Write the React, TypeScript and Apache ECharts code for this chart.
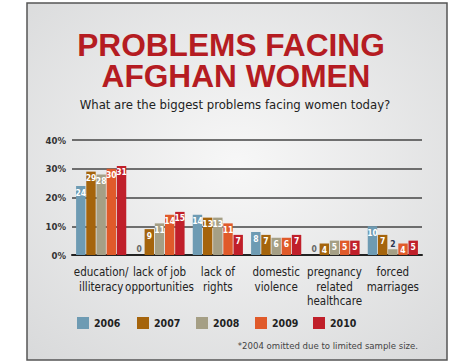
import React, { useEffect, useRef } from "react";
import * as echarts from "echarts";

const categories = [
  "education/\nilliteracy",
  "lack of job\nopportunities",
  "lack of\nrights",
  "domestic\nviolence",
  "pregnancy\nrelated\nhealthcare",
  "forced\nmarriages",
];
const years = ["2006", "2007", "2008", "2009", "2010"];
const v2006 = [24, 0, 14, 8, 0, 10];
const v2007 = [29, 9, 13, 7, 4, 7];
const v2008 = [28, 11, 13, 6, 5, 2];
const v2009 = [30, 14, 11, 6, 5, 4];
const v2010 = [31, 15, 7, 7, 5, 5];
const yTicks = [0, 10, 20, 30, 40];

const colors = ["#6e9bb3", "#a5640c", "#a59f85", "#e05a2a", "#c01f2a"];
const legendLefts = [77, 137, 196, 255, 313];
const FONT = "'DejaVu Sans Condensed', 'Liberation Sans Narrow', sans-serif";

export default function App() {
  const ref = useRef<HTMLDivElement>(null);
  useEffect(() => {
    if (!ref.current) return;
    const chart = echarts.init(ref.current, null, { renderer: "svg" });
    const all = [v2006, v2007, v2008, v2009, v2010];
    const series = all.map((vals, i) => ({
      name: years[i],
      type: "bar",
      barGap: "8%",
      barCategoryGap: "14%",
      itemStyle: { color: colors[i] },
      data: vals.map((v) =>
        v === 0
          ? { value: v, label: { position: "top", color: "#666", distance: 2 } }
          : v <= 2
          ? { value: v, label: { position: "top", color: "#2c3550", distance: 1 } }
          : { value: v }
      ),
      label: {
        show: true,
        position: "insideTop",
        distance: 2,
        color: "#fff",
        fontFamily: FONT,
        fontSize: 8.5,
        fontWeight: "bold",
      },
    }));
    const titleFont = "bold 28px 'Liberation Sans', Arial, sans-serif";
    chart.setOption({
      animation: false,
      graphic: [
        {
          type: "rect",
          shape: { x: 27, y: 3, width: 420, height: 357 },
          style: {
            fill: {
              type: "radial",
              x: 0.5,
              y: 0.45,
              r: 0.75,
              colorStops: [
                { offset: 0, color: "#f7f7f7" },
                { offset: 1, color: "#d8d9da" },
              ],
            },
            stroke: "#555",
            lineWidth: 1.5,
          },
          z: -10,
          silent: true,
        },
        {
          type: "text",
          x: 231,
          y: 45,
          scaleX: 1.13,
          scaleY: 1.12,
          style: {
            text: "PROBLEMS FACING",
            fill: "#b51c22",
            font: titleFont,
            align: "center",
            verticalAlign: "middle",
          },
        },
        {
          type: "text",
          x: 236,
          y: 76,
          scaleX: 1.13,
          scaleY: 1.12,
          style: {
            text: "AFGHAN WOMEN",
            fill: "#b51c22",
            font: titleFont,
            align: "center",
            verticalAlign: "middle",
          },
        },
        {
          type: "text",
          x: 235,
          y: 104,
          style: {
            text: "What are the biggest problems facing women today?",
            fill: "#222",
            font: "13px " + FONT,
            align: "center",
            verticalAlign: "middle",
          },
        },
        {
          type: "text",
          x: 418,
          y: 345,
          style: {
            text: "*2004 omitted due to limited sample size.",
            fill: "#444",
            font: "9.5px " + FONT,
            align: "right",
            verticalAlign: "middle",
          },
        },
      ],
      legend: years.map((y, i) => ({
        data: [y],
        left: legendLefts[i],
        top: 317,
        padding: 0,
        itemWidth: 12,
        itemHeight: 12,
        icon: "rect",
        textStyle: { fontFamily: FONT, fontSize: 10.5, fontWeight: "bold", color: "#222" },
      })),
      grid: { left: 72, right: 52, top: 140, bottom: 109, containLabel: false },
      xAxis: {
        type: "category",
        data: categories,
        axisLine: { lineStyle: { color: "#222", width: 2 } },
        axisTick: { show: false },
        axisLabel: {
          interval: 0,
          margin: 10,
          fontFamily: FONT,
          fontSize: 11.5,
          lineHeight: 14.5,
          color: "#222",
        },
      },
      yAxis: {
        type: "value",
        min: yTicks[0],
        max: yTicks[yTicks.length - 1],
        interval: 10,
        axisLine: { show: false },
        axisTick: { show: false },
        splitLine: { lineStyle: { color: "#444", width: 1.5 } },
        axisLabel: {
          formatter: "{value}%",
          margin: 6,
          fontFamily: FONT,
          fontSize: 9.5,
          fontWeight: "bold",
          color: "#333",
        },
      },
      series,
    });
    return () => chart.dispose();
  }, []);
  return <div ref={ref} style={{ width: 474, height: 364, position: "absolute", left: 0, top: 0 }} />;
}
